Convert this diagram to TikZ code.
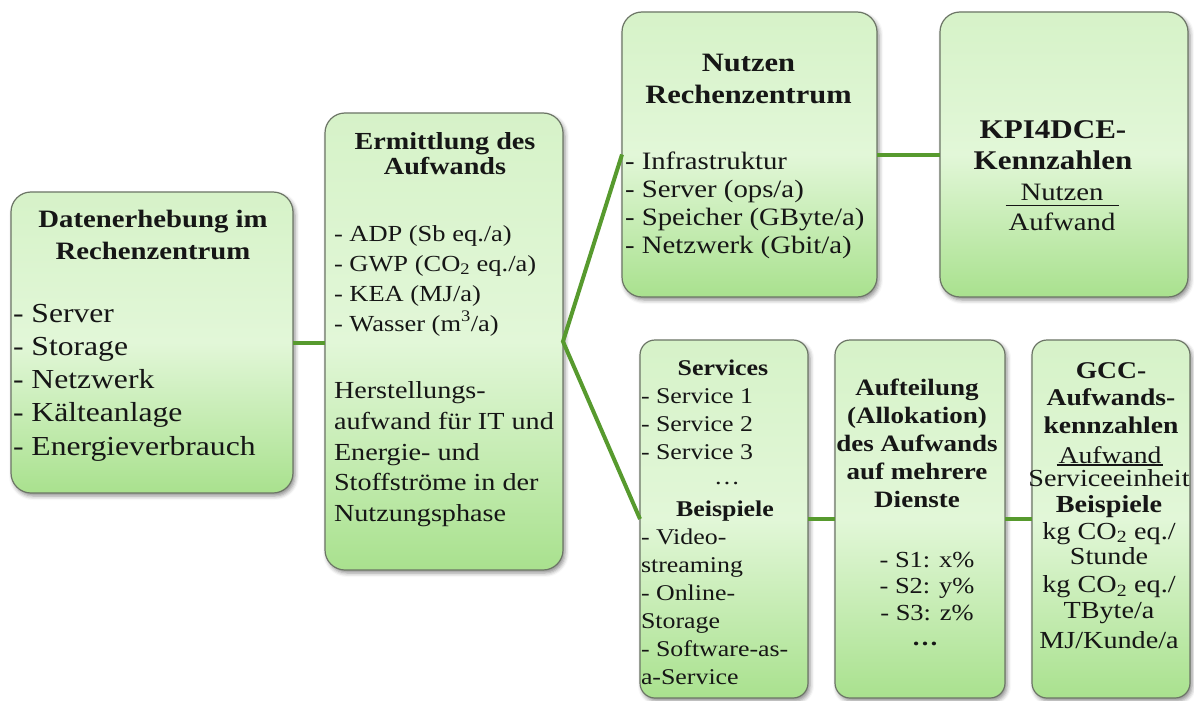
\documentclass[tikz,border=0pt]{standalone}
\usepackage{fontspec}
\setmainfont{Liberation Serif}[FakeStretch=1.15]
\usetikzlibrary{shadows.blur}

\definecolor{tileTop}{HTML}{D6F2C8}
\definecolor{tileMid}{HTML}{E2F7D8}
\definecolor{tileBot}{HTML}{A9E18E}
\definecolor{tileEdge}{HTML}{6C7566}
\definecolor{linkGreen}{HTML}{579A2E}
\definecolor{ink}{HTML}{161616}

\newcommand\setfs[2]{\fontsize{#1}{#2}\selectfont}

% Multi-line text nodes are placed by the baseline of their last line.
\tikzset{
  tile/.style={draw=tileEdge, line width=1.2pt, rounded corners=20pt,
    top color=tileTop, bottom color=tileBot, middle color=tileMid,
    blur shadow={shadow xshift=2pt, shadow yshift=-3pt,
      shadow blur radius=4pt, shadow opacity=45},
    inner sep=0pt, outer sep=0pt},
  smalltile/.style={tile, rounded corners=15pt},
  txt/.style={inner sep=0pt, outer sep=0pt, text=ink},
  link/.style={draw=linkGreen, line width=4pt},
  fracrule/.style={draw=ink, line width=1.1pt},
}

\begin{document}
\begin{tikzpicture}[x=1pt, y=-1pt]
\useasboundingbox (0,0) rectangle (1194,701);

% ---------- boxes ----------
\node[tile, minimum width=282pt, minimum height=301pt] (erhebung)  at (152,342.5) {};
\node[tile, minimum width=238pt, minimum height=457pt] (aufwand)   at (444,341.5) {};
\node[tile, minimum width=255pt, minimum height=285pt] (nutzen)    at (749.5,154.5) {};
\node[tile, minimum width=248pt, minimum height=285pt] (kpi)       at (1064,154.5) {};
\node[smalltile, minimum width=168pt, minimum height=358pt] (services)   at (724,519) {};
\node[smalltile, minimum width=170pt, minimum height=358pt] (aufteilung) at (920,519) {};
\node[smalltile, minimum width=158pt, minimum height=358pt] (gcc)        at (1111,519) {};

% ---------- connectors ----------
\draw[link] (erhebung.east) -- (erhebung.east -| aufwand.west);
\draw[link] (nutzen.west) -- (aufwand.east) -- (services.west);
\draw[link] (nutzen.east) -- (kpi.west);
\draw[link] (services.east) -- (aufteilung.west);
\draw[link] (aufteilung.east) -- (gcc.west);

% ---------- Datenerhebung ----------
\node[txt, anchor=base, align=center, font=\setfs{25}{32}\bfseries] (erhebungT) at (153,259)
  {Datenerhebung im\\Rechenzentrum};
\node[txt, anchor=base west, align=left, font=\setfs{27.5}{33.2}] (erhebungL) at (13,455)
  {- Server\\- Storage\\- Netzwerk\\- Kälteanlage\\- Energieverbrauch};

% ---------- Ermittlung des Aufwands ----------
\node[txt, anchor=base, align=center, font=\setfs{24.5}{25.5}\bfseries] (aufwandT) at (445,174.5)
  {Ermittlung des\\Aufwands};
\node[txt, anchor=base west, align=left, font=\setfs{23}{30}] (aufwandL) at (334,331)
  {- ADP (Sb eq./a)\\- GWP (CO\textsubscript{2} eq./a)\\- KEA (MJ/a)\\- Wasser (m\textsuperscript{3}/a)};
\node[txt, anchor=base west, align=left, font=\setfs{24.5}{30.75}] (aufwandP) at (334,521.5)
  {Herstellungs-\\aufwand für IT und\\Energie- und\\Stoffströme in der\\Nutzungsphase};

% ---------- Nutzen Rechenzentrum ----------
\node[txt, anchor=base, align=center, font=\setfs{26.5}{32}\bfseries] (nutzenT) at (748.5,103)
  {Nutzen\\Rechenzentrum};
\node[txt, anchor=base west, align=left, font=\setfs{25}{28}] (nutzenL) at (625,253)
  {- Infrastruktur\\- Server (ops/a)\\- Speicher (GByte/a)\\- Netzwerk (Gbit/a)};

% ---------- KPI4DCE ----------
\node[txt, anchor=base, align=center, font=\setfs{27}{31}\bfseries] (kpiT) at (1053,169)
  {KPI4DCE-\\Kennzahlen};
\node[txt, anchor=base, font=\setfs{25}{25}] (kpiN) at (1062,200) {Nutzen};
\node[txt, anchor=base, font=\setfs{25}{25}] (kpiA) at (1062,230) {Aufwand};
\draw[fracrule] ([shift={(-3pt,7pt)}]kpiA.north west) -- ([shift={(3pt,7pt)}]kpiA.north east);

% ---------- Services ----------
\node[txt, anchor=base, font=\setfs{22.5}{28}\bfseries] (servicesT) at (723,375) {Services};
\node[txt, anchor=base west, align=left, font=\setfs{22.5}{28}] (servicesL) at (641,459)
  {- Service 1\\- Service 2\\- Service 3};
\node[txt, anchor=base, font=\setfs{22.5}{28}] (servicesD) at (727,484) {…};
\node[txt, anchor=base, font=\setfs{22.5}{28}\bfseries] (servicesB) at (725,516) {Beispiele};
\node[txt, anchor=base west, align=left, font=\setfs{22.5}{28}] (servicesE) at (641,684)
  {- Video-\\streaming\\- Online-\\Storage\\- Software-as-\\a-Service};

% ---------- Aufteilung ----------
\node[txt, anchor=base, align=center, font=\setfs{23.5}{28}\bfseries] (aufteilungT) at (917,507)
  {Aufteilung\\(Allokation)\\des Aufwands\\auf mehrere\\Dienste};
\node[txt, anchor=base, align=center, font=\setfs{23}{26.5}] (aufteilungL) at (927,620)
  {- S1: x\%\\- S2: y\%\\- S3: z\%};
\node[txt, anchor=base, font=\setfs{23}{26.5}\bfseries] (aufteilungD) at (925,645) {…};

% ---------- GCC-Aufwandskennzahlen ----------
\node[txt, anchor=base, align=center, font=\setfs{24}{27.5}\bfseries] (gccT) at (1111,433)
  {GCC-\\Aufwands-\\kennzahlen};
\node[txt, anchor=base, font=\setfs{24}{25}] (gccA) at (1110,463) {Aufwand};
\draw[fracrule] ([shift={(-2pt,-2pt)}]gccA.base west) -- ([shift={(2pt,-2pt)}]gccA.base east);
\node[txt, anchor=base, font=\setfs{24.5}{25}] (gccS) at (1109,486) {Serviceeinheit};
\node[txt, anchor=base, align=center, font=\setfs{24.5}{25.5}] (gccE) at (1109,648)
  {\textbf{Beispiele}\\[1.5pt]kg CO\textsubscript{2} eq./\\Stunde\\[2.5pt]kg CO\textsubscript{2} eq./\\TByte/a\\[4.5pt]MJ/Kunde/a};

\end{tikzpicture}
\end{document}
